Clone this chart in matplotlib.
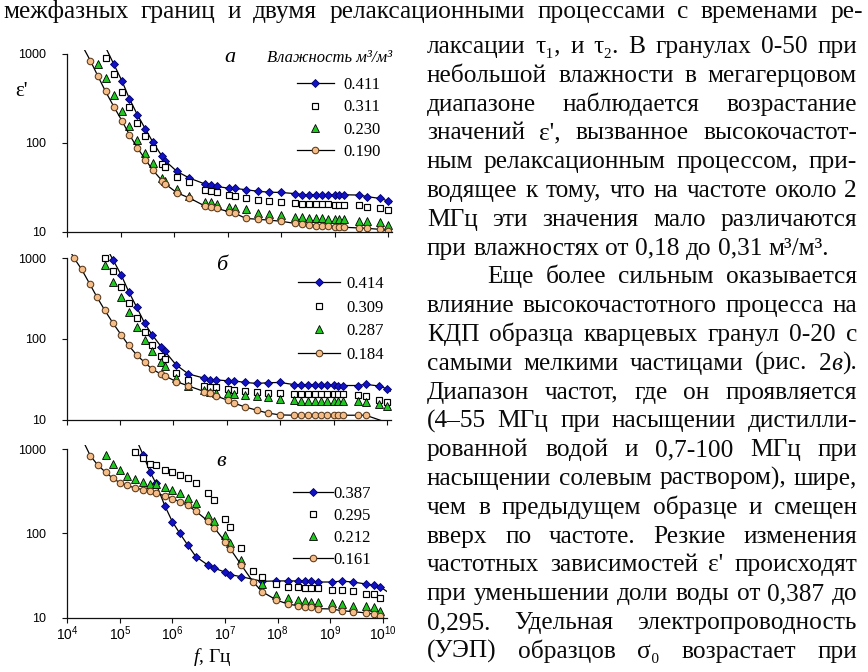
import numpy as np
import matplotlib
matplotlib.use("Agg")
import matplotlib.pyplot as plt
from matplotlib.ticker import FixedLocator, NullLocator, LogFormatterSciNotation, NullFormatter, FixedFormatter

plt.rcParams["font.family"] = ["Liberation Sans", "DejaVu Sans"]
plt.rcParams["mathtext.fontset"] = "custom"
plt.rcParams["mathtext.rm"] = "Liberation Serif"
plt.rcParams["mathtext.it"] = "Liberation Serif:italic"

W, H, DPI = 868, 672, 100
SERIF = ["Liberation Serif", "DejaVu Serif"]
nan = np.nan

# ---------------------------------------------------------------- data
# measurement frequencies (Hz), panels а and б
freq_ab = [1.38e4, 1.9e4, 2.7e4, 3.7e4, 5.2e4, 7.4e4, 1.05e5, 1.45e5, 2.05e5,
           2.9e5, 4.0e5, 5.9e5, 6.8e5, 1.12e6, 1.9e6, 3.8e6, 4.9e6, 6.3e6,
           1.05e7, 1.35e7, 2.2e7, 3.7e7, 5.9e7, 1.0e8, 1.8e8, 2.5e8, 3.3e8,
           4.4e8, 5.8e8, 7.6e8, 1.0e9, 1.23e9, 1.5e9, 2.9e9, 4.0e9, 7.2e9, 1.0e10]
# measurement frequencies (Hz), panel в
freq_c = [2.75e4, 3.8e4, 5.4e4, 7.4e4, 1.0e5, 1.38e5, 1.95e5, 2.75e5, 3.8e5,
          4.8e5, 7.2e5, 1.0e6, 1.38e6, 1.95e6, 2.8e6, 4.8e6, 6.2e6, 1.02e7,
          1.26e7, 2.05e7, 3.4e7, 5.1e7, 9.5e7, 1.58e8, 2.4e8, 3.3e8, 4.3e8,
          5.8e8, 1.07e9, 1.66e9, 2.7e9, 4.8e9, 6.8e9, 8.9e9]

# panel а: real permittivity ε' at moisture 0.411, 0.311, 0.230, 0.190 m³/m³
a_411 = [nan] * 5 + [770, 500, 315, 207, 143, 102, 71, 63, 48, 40.5, 34.5, 33.5,
                     32.5, 31, 31, 29.8, 28.7, 28, 27.8, 27, 26.3, 26.2, 26.2,
                     26.2, 26.2, 26.2, 26.2, 26.2, 26, 25, 23.8, 22.3]
a_311 = [nan] * 4 + [894, 592, 378, 251, 167, 119, 88, 58.7, 53.9, 41.3, 36.3,
                     29.7, 28.7, 27.8, 26, 25.2, 23.8, 23, 22.3, 21.6, 21, 20.7,
                     20.6, 20.6, 20.6, 20.5, 20.3, 20.3, 20.3, 20, 19, 18.7, 17.5]
a_230 = [nan] * 3 + [766, 535, 348, 230, 154, 107, 77, 60, 40.6, 37.2, 30.8,
                     25.3, 22, 21.5, 20.8, 19.2, 18.6, 17.9, 16.5, 16.1, 15.7,
                     14.8, 14.6, 14.4, 14.4, 14.4, 14.1, 13.9, 13.9, 13.9, 13.4,
                     13.4, 12.8, 12.1]
a_190 = [nan] * 2 + [842, 571, 379, 257, 178, 124, 88, 65, 49.4, 37.8, 34.7,
                     27.6, 24.2, 19.5, 19.0, 18.4, 16.9, 16.3, 14.2, 13.9, 13.6,
                     13.2, 12.5, 12.3, 12.0, 11.8, 11.7, 11.7, 11.5, 11.5, 11.3,
                     11.1, 11.0, 10.7, 10.3]

# panel б: moisture 0.414, 0.309, 0.287, 0.184 m³/m³
b_414 = [nan] * 5 + [953, 621, 386, 247, 156, 112, 80, 71, 47.6, 36.8, 32.5, 31,
                     31, 30.2, 30.2, 28.8, 28, 28.6, 28.8, 27.1, 27.1, 27.1, 27.1,
                     27.1, 27.1, 26.6, 26, 26.4, 26.4, 27.3, 26, 24]
b_309 = [nan] * 4 + [1000, 690, 440, 277, 184, 123, 84, 62, 56, 38, 31, 26, 25.6,
                     25, 23.8, 23, 22.5, 21.9, 21.6, 21.2, 20.8, 20.6, 20.6, 20.6,
                     20.6, 20.6, 20.6, 20.6, 20.6, 20.2, 19.5, 17.3, 16.3]
b_287 = [nan] * 4 + [826, 514, 335, 214, 142, 97, 70, 52.4, 46.3, 32.5, 26.1,
                     23.3, 22.2, 21.6, 21.2, 20.8, 20, 19.3, 19, 18, 17.3, 17.2,
                     17.2, 17.1, 17.2, 17.2, 17.2, 17.2, 17.2, 17.2, 16.5, 15.5,
                     14.6]
b_184 = [1000, 731, 481, 329, 225, 156, 112, 83, 63, 51, 42, 36.5, 35, 29.6,
         26.1, 22.2, 21.2, 19.6, 17.3, 16, 14.3, 13, 12, 11.4, 11.3, 11.3, 11.3,
         11.3, 11.3, 11.3, 11.3, 11.3, 11.3, 11.3, 11.3, nan, nan]

# panel в: moisture 0.387, 0.295, 0.212, 0.161 m³/m³
c_387 = [nan] * 7 + [860, 528, 398, 211, 137, 100, 72.8, 52.9, 41.8, 38.8, 34.5,
                     32.4, 30.6, nan, 27, 27.3, 27.3, 27.3, 27.3, 27.3, 26.5,
                     26.5, 27.2, 26.5, 25.1, 24.2, 23.3]
c_295 = [nan] * 6 + [913, 789, 664, 646, 564, 528, 492, 457, 399, 303, 248, 148,
                     118, 67.6, 35.7, 30.6, 25.1, 23.3, 23.3, 22.3, 22.3, 22.3,
                     21.3, 21.3, 20.7, 19.1, 19.1, 16.9]
c_212 = [nan] * 2 + [849, 664, 564, 480, 445, 412, 381, 381, 355, 327, 304, 260,
                     231, 165, 142, 95.5, 76, 48.5, nan, 24.8, 18.6, 17, 16.2,
                     15.9, 15.5, 15.5, 14.8, 14.5, 13.9, 13.9, 13.3, 12.1]
c_161 = [830, 646, 528, 449, 399, 370, 345, 330, 315, 303, 277, 259, 237, 215,
         183, 139, 117, 79, 65.5, 42, 26.7, 20.3, 16.2, 14.5, 13.9, 13.5, 13.3,
         12.8, 12.7, 12.1, 11.8, 11.4, 11.0, 10.5]

# the fitted curves continue past the measured points to the plot edges
a_411_ends = [(5.2e4, 1190), (1.25e10, 21)]
a_190_ends = [(2.0e4, 1175), (1.25e10, 9.7)]
b_414_ends = [(6.3e4, 1160), (1.25e10, 22)]
b_184_ends = [(1.2e4, 1180), (1.2e10, 8.8)]
c_387_ends = [(2.2e5, 1180), (1.2e10, 20.5)]
c_161_ends = [(2.1e4, 1170), (1.2e10, 9.3)]

x_ticks = [1e4, 1e5, 1e6, 1e7, 1e8, 1e9, 1e10]
y_ticks = [10, 100, 1000]
y_tick_labels = ["10", "100", "1000"]

# ---------------------------------------------------------------- styles
STYLE = {
    "dia": dict(marker="D", ms=3.9, mfc="#1212c4", mec="#00006e", mew=0.6),
    "sq": dict(marker="s", ms=4.6, mfc="white", mec="black", mew=0.85),
    "tri": dict(marker="^", ms=5.8, mfc="#1ec81e", mec="black", mew=0.6),
    "circ": dict(marker="o", ms=4.7, mfc="#f5bd88", mec="#5a3a1c", mew=0.75),
}

fig = plt.figure(figsize=(W / DPI, H / DPI), dpi=DPI)
fig.patch.set_facecolor("white")


def px(x, y):
    return x / W, 1 - y / H


def add_panel(box):
    x0, y0, x1, y1 = box
    return fig.add_axes([x0 / W, 1 - y1 / H, (x1 - x0) / W, (y1 - y0) / H])


panels = [
    dict(box=(67.3, 49.6, 392.3, 232.0), freq=freq_ab, tag="а", tag_xy=(230, 58),
         series=[("0.411", a_411, "dia", a_411_ends), ("0.311", a_311, "sq", None),
                 ("0.230", a_230, "tri", None), ("0.190", a_190, "circ", a_190_ends)],
         leg_xy=(297, 77.0), leg_len=2.2, leg_pad=0.6, leg_space=0.38, ticklabels=False),
    dict(box=(66.7, 254.3, 391.2, 419.5), freq=freq_ab, tag="б", tag_xy=(222, 265),
         series=[("0.414", b_414, "dia", b_414_ends), ("0.309", b_309, "sq", None),
                 ("0.287", b_287, "tri", None), ("0.184", b_184, "circ", b_184_ends)],
         leg_xy=(298, 276.3), leg_len=2.5, leg_pad=0.42, leg_space=0.45, ticklabels=False),
    dict(box=(67.3, 444.9, 386.9, 617.7), freq=freq_c, tag="в", tag_xy=(221, 462),
         series=[("0.387", c_387, "dia", c_387_ends), ("0.295", c_295, "sq", None),
                 ("0.212", c_212, "tri", None), ("0.161", c_161, "circ", c_161_ends)],
         leg_xy=(293, 486.2), leg_len=2.4, leg_pad=0.05, leg_space=0.35, ticklabels=True),
]

for p in panels:
    ax = add_panel(p["box"])
    ax.set_xscale("log")
    ax.set_yscale("log")
    ax.set_xlim(1e4, 10 ** 10.08)
    ax.set_ylim(10, 1120)
    ax.patch.set_alpha(0)
    for s in ("top", "right"):
        ax.spines[s].set_visible(False)
    for s in ("left", "bottom"):
        ax.spines[s].set_linewidth(0.9)
        ax.spines[s].set_color("#111111")
    ax.spines["left"].set_bounds(10, 1000)

    ax.yaxis.set_major_locator(FixedLocator(y_ticks))
    ax.yaxis.set_major_formatter(FixedFormatter(y_tick_labels))
    ax.yaxis.set_minor_locator(NullLocator())
    ax.xaxis.set_major_locator(FixedLocator(x_ticks))
    ax.xaxis.set_minor_locator(NullLocator())
    if p["ticklabels"]:
        ax.xaxis.set_major_formatter(LogFormatterSciNotation())
    else:
        ax.xaxis.set_major_formatter(NullFormatter())
    ax.tick_params(axis="both", which="major", direction="out", length=3.5,
                   width=0.8, color="#111111")
    ax.tick_params(axis="y", pad=11.5, labelsize=9)
    ax.tick_params(axis="x", pad=1.5, labelsize=10)

    handles = []
    freq = np.asarray(p["freq"], float)
    for lab, vals, sty, ends in p["series"]:
        v = np.asarray(vals, float)
        m = ~np.isnan(v)
        fx, vy = freq[m], v[m]
        if ends is not None:
            (hf, hv), (tf, tv) = ends
            xs = np.r_[hf, fx, tf]
            ys = np.r_[hv, vy, tv]
            ln, = ax.plot(xs, ys, color="black", lw=0.9,
                          markevery=list(range(1, len(xs) - 1)), label=lab,
                          **STYLE[sty])
        else:
            ln, = ax.plot(fx, vy, ls="none", label=lab, **STYLE[sty])
        handles.append(ln)

    ax.legend(handles=handles, loc="upper left",
              bbox_to_anchor=px(*p["leg_xy"]), bbox_transform=fig.transFigure,
              frameon=False, prop=dict(family=SERIF, size=12), numpoints=1,
              handlelength=p["leg_len"], handletextpad=p["leg_pad"],
              labelspacing=p["leg_space"], borderpad=0, borderaxespad=0)

    fig.text(*px(*p["tag_xy"]), p["tag"], family=SERIF, style="italic",
             size=16, ha="center", va="center")

fig.text(*px(392, 57.5), "Влажность м³/м³", family=SERIF, style="italic",
         size=12, ha="right", va="center")
fig.text(*px(21, 92), "ε'", family=SERIF, size=15, ha="center", va="center")
fig.text(*px(212, 657), "$f$, Гц", family="Liberation Serif", size=14,
         ha="center", va="center")

# ---------------------------------------------------------------- page text
# words may carry italic pieces between asterisks
top_line = "межфазных границ и двумя релаксационными процессами с временами ре-"
column = [
    ("лаксации τ₁, и τ₂. В гранулах 0-50 при", "j"),
    ("небольшой влажности в мегагерцовом", "j"),
    ("диапазоне наблюдается возрастание", "j"),
    ("значений ε', вызванное высокочастот-", "j"),
    ("ным релаксационным процессом, при-", "j"),
    ("водящее к тому, что на частоте около 2", "j"),
    ("МГц эти значения мало различаются", "j"),
    ("при влажностях от 0,18 до 0,31 м³/м³.", "l"),
    ("Еще более сильным оказывается", "i"),
    ("влияние высокочастотного процесса на", "j"),
    ("КДП образца кварцевых гранул 0-20 с", "j"),
    ("самыми мелкими частицами (рис. 2*в*).", "j"),
    ("Диапазон частот, где он проявляется", "j"),
    ("(4–55 МГц при насыщении дистилли-", "j"),
    ("рованной водой и 0,7-100 МГц при", "j"),
    ("насыщении солевым раствором), шире,", "j"),
    ("чем в предыдущем образце и смещен", "j"),
    ("вверх по частоте. Резкие изменения", "j"),
    ("частотных зависимостей ε' происходят", "j"),
    ("при уменьшении доли воды от 0,387 до", "j"),
    ("0,295. Удельная электропроводность", "j"),
    ("(УЭП) образцов σ₀ возрастает при", "j"),
]

renderer = fig.canvas.get_renderer()


def pieces(word):
    parts = word.split("*")
    return [(s, "italic" if k % 2 else "normal") for k, s in enumerate(parts) if s]


def piece_width(s, style, size):
    t = fig.text(0, 0, s, family=SERIF, size=size, style=style)
    w = t.get_window_extent(renderer).width
    t.remove()
    return w


def word_width(word, size):
    return sum(piece_width(s, st, size) for s, st in pieces(word))


# choose the body size so the unjustified closing line has its set width
ref_words = column[7][0].split()
ref_w = sum(word_width(w, 10) for w in ref_words) + (len(ref_words) - 1) * 0.25 * 10 * DPI / 72
BODY = 10 * (830.5 - 427.0) / ref_w
SPACE = 0.25 * BODY * DPI / 72


def set_line(text, x0, x1, base, mode):
    words = text.split()
    ws = [word_width(w, BODY) for w in words]
    if mode == "l" or len(words) == 1:
        gap = SPACE
    else:
        gap = (x1 - x0 - sum(ws)) / (len(words) - 1)
    x = x0
    for w, wd in zip(words, ws):
        xp = x
        for s, st in pieces(w):
            fig.text(*px(xp, base), s, family=SERIF, size=BODY, style=st,
                     ha="left", va="baseline", color="#0a0a0a")
            xp += piece_width(s, st, BODY)
        x += wd + gap


set_line(top_line, 3.0, 863.0, 18.0, "j")
COL_L, COL_R, INDENT = 427.0, 857.0, 60.0
for i, (txt, mode) in enumerate(column):
    base = 53.0 + 28.8 * i
    x0 = COL_L + (INDENT if mode == "i" else 0.0)
    set_line(txt, x0, COL_R, base, mode)

fig.savefig("out.png", dpi=DPI, facecolor="white")
